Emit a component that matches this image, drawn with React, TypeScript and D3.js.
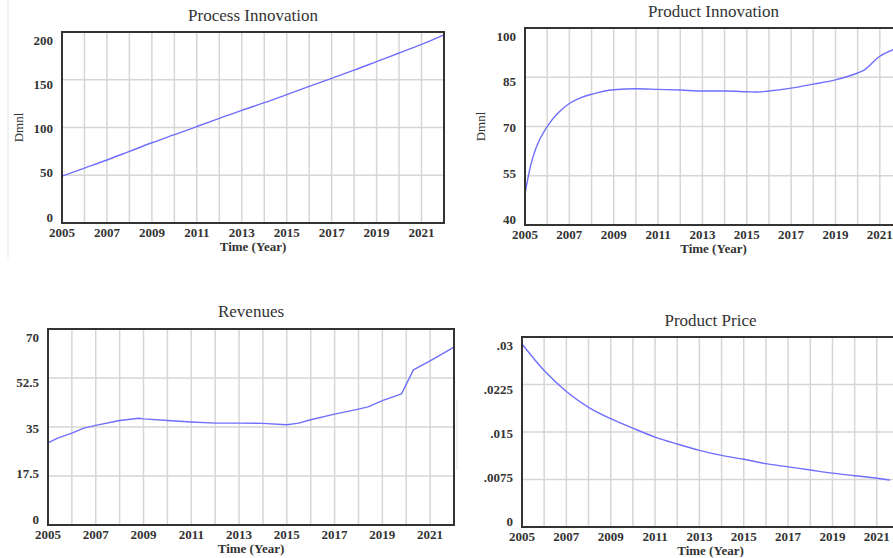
import { line, curveLinear, curveMonotoneX, scaleLinear } from "d3";

// time axis shared by all four panels
const yearTicks = [2005, 2006, 2007, 2008, 2009, 2010, 2011, 2012, 2013, 2014, 2015, 2016, 2017, 2018, 2019, 2020, 2021, 2022];
const yearLabels = [2005, 2007, 2009, 2011, 2013, 2015, 2017, 2019, 2021];

// Process Innovation
const processYears = [2005, 2006, 2007, 2008, 2009, 2010, 2011, 2012, 2013, 2014, 2015, 2016, 2017, 2018, 2019, 2020, 2021, 2022];
const processValues = [49, 57.5, 66, 75, 84, 92.5, 101, 109.5, 118, 126, 134.5, 143, 151.5, 160, 169, 178, 187, 197];
const processTicks = [0, 50, 100, 150, 200];
const processTickLabels = ["0", "50", "100", "150", "200"];

// Product Innovation
const productYears = [2005, 2005.25, 2005.5, 2006, 2006.5, 2007, 2007.5, 2008, 2009, 2010, 2011, 2012, 2013, 2014, 2015, 2015.5, 2016, 2017, 2018, 2019, 2020, 2020.25, 2021, 2021.6];
const productValues = [49.5, 58, 63.5, 70, 74.2, 77, 78.7, 79.8, 81.2, 81.5, 81.3, 81.1, 80.8, 80.8, 80.6, 80.5, 80.8, 81.7, 82.9, 84.2, 86.3, 87, 91.4, 93.4];
const productTicks = [40, 55, 70, 85, 100];
const productTickLabels = ["40", "55", "70", "85", "100"];

// Revenues
const revenueYears = [2005, 2005.4, 2006, 2006.5, 2007, 2008, 2008.8, 2009, 2010, 2011, 2012, 2013, 2014, 2015, 2015.5, 2016, 2017, 2018, 2018.4, 2019, 2019.8, 2020.3, 2021, 2022];
const revenueValues = [29.3, 31, 32.8, 34.6, 35.6, 37.3, 38.1, 37.9, 37.3, 36.8, 36.4, 36.4, 36.3, 35.8, 36.4, 37.6, 39.6, 41.4, 42.2, 44.4, 46.8, 55.4, 58.6, 63.5];
const revenueTicks = [0, 17.5, 35, 52.5, 70];
const revenueTickLabels = ["0", "17.5", "35", "52.5", "70"];

// Product Price
const priceYears = [2005, 2006, 2007, 2008, 2009, 2010, 2011, 2012, 2013, 2014, 2015, 2016, 2017, 2018, 2019, 2020, 2021, 2021.6];
const priceValues = [0.0289, 0.0247, 0.0214, 0.0189, 0.0171, 0.0156, 0.0142, 0.0131, 0.0121, 0.0113, 0.0107, 0.0100, 0.0095, 0.0090, 0.0085, 0.0081, 0.0077, 0.0074];
const priceTicks = [0, 0.0075, 0.015, 0.0225, 0.03];
const priceTickLabels = ["0", ".0075", ".015", ".0225", ".03"];

const FONT = "'Liberation Serif', 'Times New Roman', serif";
const TEXT = "#333";

interface PanelProps {
  title: string;
  left: number;
  top: number;
  right: number;
  bottom: number;
  titleY: number;
  years: number[];
  values: number[];
  ticks: number[];
  tickLabels: string[];
  dmnlX: number;
  dmnlClip?: [number, number];
  smooth?: boolean;
}

function Panel(p: PanelProps) {
  const x = scaleLinear().domain([2005, 2022]).range([p.left, p.right]);
  const y = scaleLinear()
    .domain([p.ticks[0], p.ticks[p.ticks.length - 1]])
    .range([p.bottom, p.top]);
  // Vensim squeezes the y labels a little inside the frame
  const labelY = y.copy().range([p.bottom - 6, p.top + 8]);
  const path = line<number>()
    .x((_, i) => x(p.years[i]))
    .y((d) => y(d))
    .curve(p.smooth === false ? curveLinear : curveMonotoneX)(p.values);
  const midX = (p.left + p.right) / 2;
  const midY = (p.top + p.bottom) / 2;
  const clipId = `clip-${p.title.replace(/\s/g, "")}`;

  return (
    <g fontFamily={FONT} fill={TEXT}>
      <text x={midX} y={p.titleY} textAnchor="middle" fontSize={17}>
        {p.title}
      </text>
      {yearTicks.slice(1, -1).map((t) => (
        <line key={t} x1={x(t)} x2={x(t)} y1={p.top} y2={p.bottom} stroke="#d6d6d6" strokeWidth={1.5} />
      ))}
      {p.ticks.slice(1, -1).map((t) => (
        <line key={t} x1={p.left} x2={p.right} y1={y(t)} y2={y(t)} stroke="#d6d6d6" strokeWidth={1.5} />
      ))}
      <path d={path ?? ""} fill="none" stroke="#6f6fff" strokeWidth={1.4} strokeLinejoin="round" />
      <rect
        x={p.left}
        y={p.top}
        width={p.right - p.left}
        height={p.bottom - p.top}
        fill="none"
        stroke="#333"
        strokeWidth={2}
      />
      {p.ticks.map((t, i) => (
        <text key={t} x={p.left - 9} y={labelY(t)} dy="0.35em" textAnchor="end" fontSize={13} fontWeight="bold">
          {p.tickLabels[i]}
        </text>
      ))}
      {yearLabels.map((t) => (
        <text key={t} x={x(t)} y={p.bottom + 14} textAnchor="middle" fontSize={13} fontWeight="bold">
          {t}
        </text>
      ))}
      <text x={midX} y={p.bottom + 28} textAnchor="middle" fontSize={13} fontWeight="bold">
        Time (Year)
      </text>
      {p.dmnlClip && (
        <clipPath id={clipId}>
          <rect x={p.dmnlClip[0]} y={p.top} width={p.dmnlClip[1] - p.dmnlClip[0]} height={p.bottom - p.top} />
        </clipPath>
      )}
      <text
        transform={`translate(${p.dmnlX},${midY}) rotate(-90)`}
        textAnchor="middle"
        fontSize={13}
        clipPath={p.dmnlClip ? `url(#${clipId})` : undefined}
      >
        Dmnl
      </text>
    </g>
  );
}

export default function App() {
  return (
    <div style={{ position: "fixed", left: 0, top: 0 }}>
      <svg width={893} height={558} style={{ display: "block", background: "#fff" }}>
        <line x1={8} x2={8} y1={0} y2={258} stroke="#e4e4e4" strokeWidth={1} />
        <line x1={457} x2={457} y1={400} y2={470} stroke="#e4e4e4" strokeWidth={1} />
        <Panel
          title="Process Innovation"
          left={62}
          top={32}
          right={444}
          bottom={223}
          titleY={21}
          years={processYears}
          values={processValues}
          ticks={processTicks}
          tickLabels={processTickLabels}
          dmnlX={23}
        />
        <Panel
          title="Product Innovation"
          left={525}
          top={28}
          right={902}
          bottom={225}
          titleY={17}
          years={productYears}
          values={productValues}
          ticks={productTicks}
          tickLabels={productTickLabels}
          dmnlX={485}
        />
        <Panel
          title="Revenues"
          left={48}
          top={329}
          right={454}
          bottom={525}
          titleY={317}
          years={revenueYears}
          values={revenueValues}
          ticks={revenueTicks}
          tickLabels={revenueTickLabels}
          dmnlX={11}
          dmnlClip={[0, 5]}
          smooth={false}
        />
        <Panel
          title="Product Price"
          left={522}
          top={337}
          right={899}
          bottom={527}
          titleY={326}
          years={priceYears}
          values={priceValues}
          ticks={priceTicks}
          tickLabels={priceTickLabels}
          dmnlX={475}
          dmnlClip={[466, 474]}
        />
      </svg>
    </div>
  );
}
